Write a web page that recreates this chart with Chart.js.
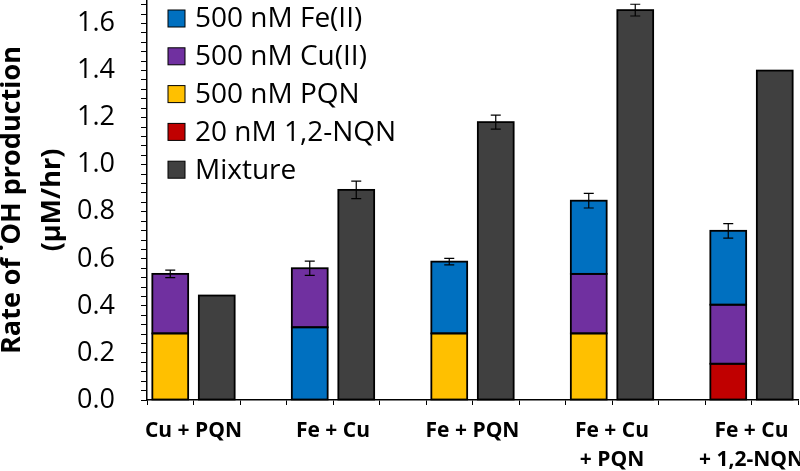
<!DOCTYPE html>
<html>
<head>
<meta charset="utf-8">
<script src="https://cdn.jsdelivr.net/npm/chart.js@4.4.0/dist/chart.umd.min.js"></script>
<style>
  html, body { margin: 0; padding: 0; background: #fff; }
</style>
</head>
<body>
<canvas id="myChart" width="800" height="471"></canvas>
<script>
const categories = [["Cu + PQN"], ["Fe + Cu"], ["Fe + PQN"], ["Fe + Cu", "+ PQN"], ["Fe + Cu", "+ 1,2-NQN"]];

// pieces of the stacked bars, bottom to top (µM/hr)
const feLow  = [null, 0.309, null, null, null];   // Fe is the bottom piece only in Fe + Cu
const pqn    = [0.283, null, 0.283, 0.283, null];
const nqn    = [null, null, null, null, 0.154];
const cu     = [0.253, 0.251, null, 0.253, 0.251];
const feTop  = [null, null, 0.305, 0.311, 0.314];
const sumErr = [0.016, 0.030, 0.014, 0.031, 0.031];

const mixture = [0.444, 0.893, 1.181, 1.657, 1.40];
const mixErr  = [null, 0.037, 0.030, 0.025, null];

const yTicks = [0, 0.2, 0.4, 0.6, 0.8, 1.0, 1.2, 1.4, 1.6];

const FE = "#0070C0", CU = "#7030A0", PQN = "#FFC000", NQN = "#C00000", MIX = "#404040";
const legendItems = [
    { text: "500 nM Fe(II)", color: FE },
    { text: "500 nM Cu(II)", color: CU },
    { text: "500 nM PQN", color: PQN },
    { text: "20 nM 1,2-NQN", color: NQN },
    { text: "Mixture", color: MIX },
];

// each condition takes 3 slots on the x axis: sum bar, mixture bar, gap
const barPos = (i) => 3 * i + 0.5;
const mixPos = (i) => 3 * i + 1.5;
const pts = (arr, pos) => arr.map((v, i) => ({ x: pos(i), y: v }));

const barStyle = {
    borderWidth: 0,
    grouped: false,
    categoryPercentage: 1,
    barPercentage: 0.77,
};

// black outline round every bar piece, taken from the drawn elements
const outlines = {
    id: "outlines",
    afterDatasetsDraw(chart) {
        const { ctx } = chart;
        ctx.save();
        ctx.strokeStyle = "#000";
        ctx.lineWidth = 1.8;
        chart.data.datasets.forEach((ds, d) => {
            chart.getDatasetMeta(d).data.forEach((bar) => {
                const { x, y, base, width } = bar.getProps(["x", "y", "base", "width"], true);
                if (!isFinite(y) || !isFinite(base) || y === base) return;
                ctx.strokeRect(x - width / 2, Math.min(y, base), width, Math.abs(base - y));
            });
        });
        ctx.restore();
    },
};

const errorBars = {
    id: "errorBars",
    afterDatasetsDraw(chart) {
        const { ctx, scales: { x, y } } = chart;
        ctx.save();
        ctx.strokeStyle = "#000";
        ctx.lineWidth = 1.2;
        const draw = (pos, val, err) => {
            if (val == null || !err) return;
            const px = x.getPixelForValue(pos);
            const hi = y.getPixelForValue(val + err);
            const lo = y.getPixelForValue(val - err);
            ctx.beginPath();
            ctx.moveTo(px, hi); ctx.lineTo(px, lo);
            ctx.moveTo(px - 5, hi); ctx.lineTo(px + 5, hi);
            ctx.moveTo(px - 5, lo); ctx.lineTo(px + 5, lo);
            ctx.stroke();
        };
        categories.forEach((c, i) => {
            const total = [feLow, pqn, nqn, cu, feTop].reduce((s, a) => s + (a[i] || 0), 0);
            draw(barPos(i), total, sumErr[i]);
            draw(mixPos(i), mixture[i], mixErr[i]);
        });
        ctx.restore();
    },
};

// legend drawn inside the plot, top-left
const boxLegend = {
    id: "boxLegend",
    afterDraw(chart) {
        const { ctx, chartArea } = chart;
        ctx.save();
        ctx.font = "28px 'Open Sans'";
        ctx.textBaseline = "middle";
        ctx.textAlign = "left";
        legendItems.forEach((item, i) => {
            const cy = chartArea.top + 18.5 + 37.8 * i;
            const bx = chartArea.left + 21;
            ctx.fillStyle = item.color;
            ctx.fillRect(bx, cy - 8.5, 17, 17);
            ctx.strokeStyle = "#000";
            ctx.lineWidth = 1;
            ctx.strokeRect(bx, cy - 8.5, 17, 17);
            ctx.fillStyle = "#000";
            ctx.fillText(item.text, bx + 27, cy + 1);
        });
        ctx.restore();
    },
};

Chart.defaults.font.family = "'Open Sans', sans-serif";
Chart.defaults.color = "#000";

const ctx = document.getElementById("myChart").getContext("2d");
const myChart = new Chart(ctx, {
    type: "bar",
    data: {
        datasets: [
            { label: "500 nM Fe(II)", data: pts(feLow, barPos), backgroundColor: FE, stack: "sum", ...barStyle },
            { label: "500 nM PQN", data: pts(pqn, barPos), backgroundColor: PQN, stack: "sum", ...barStyle },
            { label: "20 nM 1,2-NQN", data: pts(nqn, barPos), backgroundColor: NQN, stack: "sum", ...barStyle },
            { label: "500 nM Cu(II)", data: pts(cu, barPos), backgroundColor: CU, stack: "sum", ...barStyle },
            { label: "500 nM Fe(II)", data: pts(feTop, barPos), backgroundColor: FE, stack: "sum", ...barStyle },
            { label: "Mixture", data: pts(mixture, mixPos), backgroundColor: MIX, stack: "mix", ...barStyle },
        ],
    },
    options: {
        responsive: false,
        animation: false,
        layout: { padding: { left: 0, right: 2, top: 0, bottom: 0 } },
        plugins: {
            legend: { display: false },
            tooltip: { enabled: false },
        },
        scales: {
            x: {
                type: "linear",
                min: 0,
                max: 14,
                offset: false,
                grid: { offset: false, drawOnChartArea: false, tickLength: 5, color: "#000", lineWidth: 1 },
                border: { color: "#000", width: 1.5 },
                ticks: {
                    stepSize: 1,
                    autoSkip: false,
                    maxRotation: 0,
                    padding: 11,
                    font: { size: 21, weight: "bold", lineHeight: 1.4 },
                    callback: (v) => ((v - 1) % 3 === 0 ? categories[(v - 1) / 3] : ""),
                },
                afterFit: (s) => { s.height = 71; s.paddingLeft = 0; s.paddingRight = 0; },
            },
            y: {
                stacked: true,
                min: 0,
                max: 1.7,
                grid: { drawOnChartArea: false, tickLength: 6, color: "#000", lineWidth: 1 },
                border: { color: "#000", width: 1.5 },
                ticks: {
                    stepSize: 0.04,
                    includeBounds: false,
                    autoSkip: false,
                    padding: 26,
                    font: { size: 27 },
                    callback: (v) => {
                        const t = yTicks.find((m) => Math.abs(m - v) < 1e-6);
                        return t === undefined ? "" : t.toFixed(1);
                    },
                },
                title: {
                    display: true,
                    text: ["Rate of \u02D9OH production", "(\u00B5M/hr)"],
                    font: { size: 27, weight: "bold", lineHeight: 1.5 },
                    padding: { top: -8, bottom: 0 },
                },
                afterFit: (s) => { s.width = 147; s.paddingTop = 0; s.paddingBottom = 0; },
            },
        },
    },
    plugins: [outlines, errorBars, boxLegend],
});
</script>
</body>
</html>
